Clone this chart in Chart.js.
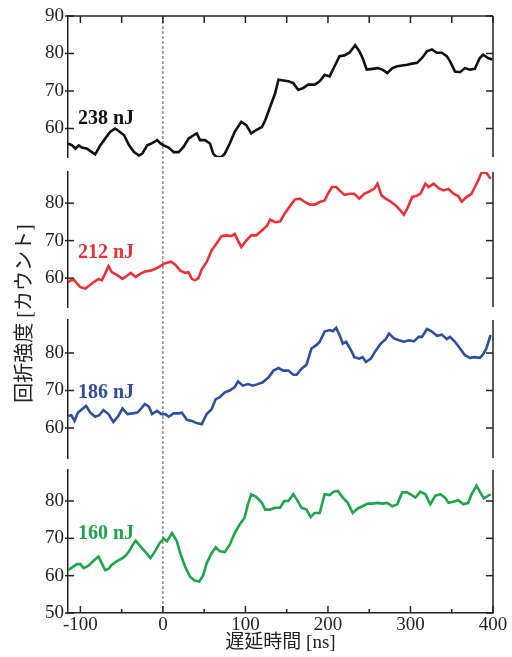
<!DOCTYPE html>
<html>
<head>
<meta charset="utf-8">
<script src="https://cdn.jsdelivr.net/npm/chart.js@4.4.1/dist/chart.umd.min.js"></script>
<style>
  html, body { margin: 0; padding: 0; background: #fff; }
  #wrap { width: 512px; height: 657px; position: relative; }
</style>
</head>
<body>
<div id="wrap"><canvas id="chart"></canvas></div>
<script>
// delay time [ns] and counts
const t238 = [-115,-110,-106,-102,-98,-92,-86,-82,-76,-70,-64,-58,-54,-47,-41,-35,-29,-25,
  -19,-13,-7,-3,1,7,13,19,25,31,37,41,45,51,57,61,65,71,75,81,
  87,95,101,107,113,120,124,130,136,140,146,152,158,164,170,176,184,190,196,202,
  208,214,220,226,233,238,242,247,254,260,266,272,278,284,290,296,302,308,314,320,
  326,332,338,344,348,354,360,366,372,378,384,388,394,399];
const v238 = [56.0,55.5,54.6,55.5,54.9,54.6,53.7,53.1,55.5,57.3,59.1,60.0,59.4,58.2,55.5,53.7,52.8,53.3,
  55.5,56.1,56.9,56.0,55.5,54.9,53.7,53.7,55.1,57.3,58.2,58.7,56.9,56.9,56.0,53.3,52.4,52.4,53.3,56.0,
  59.1,61.8,60.9,58.7,59.6,60.4,62.2,65.8,69.4,73.0,72.8,72.6,72.1,70.3,70.8,71.7,71.7,72.6,74.3,73.9,
  76.6,79.3,79.5,80.2,82.2,80.6,78.8,75.7,75.9,76.1,75.7,74.8,76.1,76.6,76.8,77.0,77.3,77.5,78.8,80.6,
  81.1,80.2,80.2,79.3,77.9,75.2,75.0,76.1,75.7,75.9,78.8,79.7,78.8,78.4];

const t212 = [-115,-112,-108,-104,-100,-94,-90,-84,-78,-74,-70,-66,-62,-56,-49,-43,-39,-33,-27,-21,
  -15,-9,-3,1,5,10,15,21,27,31,35,39,43,47,53,59,65,71,77,83,
  87,91,95,101,107,113,120,126,130,136,142,148,154,160,166,172,178,184,190,196,
  200,205,210,214,220,226,232,238,244,250,256,260,265,270,276,282,288,292,296,302,
  308,312,318,322,328,334,340,346,352,358,362,368,374,378,382,386,392,397];
const v212 = [58.9,59.4,59.6,58.5,57.6,57.2,57.9,58.9,59.8,59.4,61.2,63.2,61.6,60.9,59.8,60.7,61.4,60.3,61.2,61.8,
  62.0,62.5,63.2,63.8,64.1,64.4,63.6,62.0,61.4,61.6,59.8,59.4,60.0,62.3,64.3,67.4,69.2,71.2,71.4,71.2,
  71.8,70.0,68.3,70.0,71.4,71.4,72.7,73.9,75.6,74.9,75.1,77.4,79.2,81.0,81.2,80.3,79.6,79.6,80.3,80.7,
  82.5,84.3,84.3,83.4,82.2,82.5,82.5,81.2,82.5,83.1,83.8,85.2,82.0,81.2,80.4,79.4,78.0,76.9,78.5,81.6,
  82.0,82.5,85.2,84.3,85.2,84.0,83.4,83.8,82.5,81.9,80.4,81.6,82.5,84.3,86.0,88.1,88.1,86.5];

const t186 = [-115,-111,-107,-103,-98,-93,-88,-82,-77,-72,-66,-60,-54,-49,-43,-37,-31,-27,-22,-17,
  -13,-7,-2,3,7,13,19,23,29,35,41,47,53,59,64,69,75,81,87,91,
  97,103,109,115,121,128,134,140,146,152,158,162,168,174,180,186,190,196,202,206,
  210,214,218,222,228,232,238,242,246,252,258,264,270,274,280,286,292,298,304,310,
  314,320,326,332,338,344,348,354,360,366,372,378,384,388,392,397];
const v186 = [63.2,63.4,61.9,64.1,65.0,65.9,64.1,63.0,63.4,64.8,63.7,61.6,63.2,65.2,63.7,63.9,64.1,65.0,66.4,65.7,
  63.7,64.6,63.7,63.7,63.0,63.9,63.9,64.1,62.2,61.9,61.3,61.0,63.7,65.0,67.7,68.2,69.5,70.0,70.9,72.4,
  71.3,71.7,71.3,71.7,72.2,73.5,75.3,76.0,75.3,75.3,74.2,74.2,75.8,76.9,81.2,82.1,83.0,85.7,86.1,85.8,
  86.7,84.8,82.5,83.0,80.7,78.9,78.5,78.9,77.6,78.5,80.7,82.5,83.7,85.2,83.9,83.4,83.0,83.4,83.1,84.3,
  84.3,86.4,85.7,84.6,84.9,83.7,84.3,83.0,81.2,79.4,78.7,78.9,78.7,79.6,81.2,84.8];

const t160 = [-115,-110,-104,-100,-96,-90,-84,-78,-74,-70,-66,-62,-56,-49,-45,-41,-37,-33,-27,-21,
  -15,-9,-4,1,5,11,17,21,27,33,39,44,49,53,59,64,69,75,81,87,
  93,99,103,107,113,120,124,130,136,142,147,152,158,162,168,174,179,184,190,196,
  202,207,212,218,224,230,236,242,248,254,260,266,272,278,284,290,296,300,306,312,
  318,324,330,336,342,346,352,358,364,370,374,380,384,389,394,397];
const v160 = [61.5,62.2,63.1,63.1,62.0,62.7,64.0,65.1,63.3,61.5,61.8,62.9,63.8,64.7,65.4,66.5,68.1,69.4,67.8,66.3,
  64.7,66.7,68.7,69.9,69.2,71.4,69.2,66.0,62.4,59.7,58.6,58.4,60.2,63.3,66.0,67.6,66.5,66.3,68.3,71.4,
  73.7,75.5,79.1,81.8,81.1,79.5,77.7,77.7,78.2,78.2,80.0,80.0,81.8,80.5,78.2,77.7,75.7,76.8,76.8,81.8,
  81.6,82.5,82.7,80.9,79.5,76.8,78.0,78.6,79.3,79.3,79.5,79.3,79.5,78.6,79.1,82.3,82.3,81.8,80.9,82.5,
  81.8,79.1,81.4,81.8,80.9,79.5,79.8,80.2,79.1,79.5,81.8,84.1,82.5,80.7,81.4,81.8];

const energyLabels = ['238 nJ', '212 nJ', '186 nJ', '160 nJ'];
const xTicks = [-100, 0, 100, 200, 300, 400];
const xMinorTicks = [-50, 50, 150, 250, 350];
const yTicksTop = [60, 70, 80, 90];
const yTicksMid = [60, 70, 80];
const yTicksBottom = [50, 60, 70, 80];

const SERIF = "'Liberation Serif', 'Noto Sans CJK JP', serif";
const INK = '#222';
const colors = ['#111111', '#e5323b', '#2f4f9c', '#1fa34c'];

function pairs(ts, vs) {
  return ts.map((t, i) => ({ x: t, y: vs[i] }));
}

// one panel axis of the stacked left column
function panelAxis(min, max, weight, ticks) {
  return {
    type: 'linear', position: 'left', stack: 'panels', stackWeight: weight,
    min: min, max: max,
    afterBuildTicks: s => { s.ticks = ticks.map(v => ({ value: v })); },
    afterFit: s => { s.width = 68; },
    grid: { display: false, drawTicks: false },
    border: { display: true, color: INK, width: 1.5 },
    ticks: { color: INK, padding: 4, autoSkip: false, font: { family: SERIF, size: 19 } }
  };
}

// empty spacer between panels
function gapAxis(weight, title) {
  return {
    type: 'linear', position: 'left', stack: 'panels', stackWeight: weight,
    min: 0, max: 1,
    afterFit: s => { s.width = 68; },
    grid: { display: false, drawTicks: false },
    border: { display: false },
    ticks: { display: false },
    title: title ? {
      display: true, text: title, color: INK,
      font: { family: SERIF, size: 20 }, padding: { top: 14, bottom: 0 }
    } : { display: false }
  };
}

const panelIds = ['y1', 'y2', 'y3', 'y4'];
const labelAnchors = [61.1, 65.3, 68.0, 69.8];

const framePlugin = {
  id: 'frame',
  beforeDatasetsDraw(chart) {
    const ctx = chart.ctx, a = chart.chartArea;
    const x0 = chart.scales.x.getPixelForValue(0);
    ctx.save();
    ctx.strokeStyle = '#555';
    ctx.lineWidth = 1;
    ctx.setLineDash([3, 2]);
    ctx.beginPath();
    ctx.moveTo(x0, a.top);
    ctx.lineTo(x0, a.bottom);
    ctx.stroke();
    ctx.restore();
  },
  afterDraw(chart) {
    const ctx = chart.ctx, a = chart.chartArea, xs = chart.scales.x;
    const line = (x1, y1, x2, y2) => {
      ctx.beginPath(); ctx.moveTo(x1, y1); ctx.lineTo(x2, y2); ctx.stroke();
    };
    ctx.save();
    ctx.strokeStyle = INK;
    ctx.lineWidth = 1.5;
    panelIds.forEach(id => {
      const s = chart.scales[id];
      line(a.right, s.top, a.right, s.bottom);
      s.ticks.forEach(tk => {
        const py = s.getPixelForValue(tk.value);
        line(a.left - 3, py, a.left + 6, py);
        line(a.right - 7, py, a.right, py);
      });
    });
    const top = chart.scales.y1.top;
    line(a.left, top, a.right, top);
    xTicks.concat(xMinorTicks).forEach(v => {
      const px = xs.getPixelForValue(v);
      line(px, top, px, top + 7);
    });
    xTicks.forEach(v => {
      const px = xs.getPixelForValue(v);
      line(px, a.bottom, px, a.bottom - 7);
    });
    xMinorTicks.forEach(v => {
      const px = xs.getPixelForValue(v);
      line(px, a.bottom, px, a.bottom - 4);
    });

    // energy labels inside each panel
    ctx.font = 'bold 20px ' + SERIF;
    ctx.textAlign = 'left';
    ctx.textBaseline = 'alphabetic';
    panelIds.forEach((id, i) => {
      ctx.fillStyle = colors[i];
      ctx.fillText(energyLabels[i], xs.getPixelForValue(-103), chart.scales[id].getPixelForValue(labelAnchors[i]));
    });
    ctx.restore();
  }
};

const series = [[t238, v238], [t212, v212], [t186, v186], [t160, v160]];

new Chart(document.getElementById('chart'), {
  type: 'line',
  data: {
    datasets: series.map((s, i) => ({
      label: energyLabels[i],
      data: pairs(s[0], s[1]),
      yAxisID: panelIds[i],
      borderColor: colors[i],
      borderWidth: 2.6,
      pointRadius: 0,
      tension: 0,
      fill: false
    }))
  },
  options: {
    responsive: true,
    maintainAspectRatio: false,
    animation: false,
    layout: { padding: { top: 16, right: 19, bottom: 0, left: 0 } },
    plugins: { legend: { display: false }, tooltip: { enabled: false } },
    scales: {
      x: {
        type: 'linear', position: 'bottom', min: -115, max: 400,
        afterBuildTicks: s => { s.ticks = xTicks.map(v => ({ value: v })); },
        afterFit: s => { s.height = 44; },
        grid: { display: false, drawTicks: false },
        border: { display: true, color: INK, width: 1.5 },
        ticks: { color: INK, padding: 1, autoSkip: false, maxRotation: 0, font: { family: SERIF, size: 19 } },
        title: {
          display: true, text: '遅延時間 [ns]', color: INK,
          font: { family: SERIF, size: 19 }, padding: { top: 0, bottom: 3 }
        }
      },
      // listed bottom-up: the left stack is placed in reverse order
      y4: panelAxis(50, 88.3, 143, yTicksBottom),
      g3: gapAxis(12),
      y3: panelAxis(52.0, 88.8, 138, yTicksMid),
      g2: gapAxis(13, '回折強度 [カウント]'),
      y2: panelAxis(52.3, 88.3, 135, yTicksMid),
      g1: gapAxis(15),
      y1: panelAxis(52.4, 90, 141, yTicksTop)
    }
  },
  plugins: [framePlugin]
});
</script>
</body>
</html>
